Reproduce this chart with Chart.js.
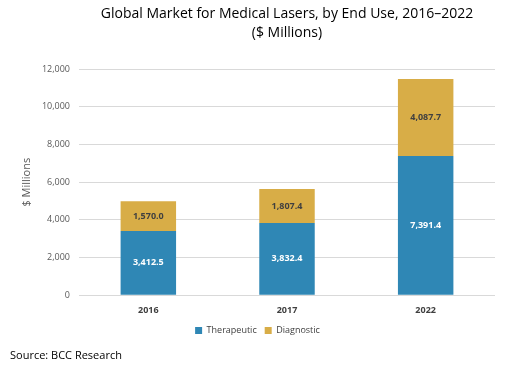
<!DOCTYPE html>
<html><head><meta charset="utf-8">
<script src="https://cdn.jsdelivr.net/npm/chart.js@4/dist/chart.umd.min.js"></script>
<style>
html,body{margin:0;padding:0;background:#fff;}
#wrap{position:relative;width:518px;height:368px;}
#c{position:absolute;left:0;top:0;}
#src{position:absolute;left:10px;top:347px;font-family:"Open Sans","Liberation Sans",sans-serif;font-size:11px;color:#000;}
</style></head>
<body><div id="wrap"><canvas id="c" width="518" height="349"></canvas><div id="src">Source: BCC Research</div></div>
<script>
const categories = ["2016", "2017", "2022"];
const therapeutic = [3412.5, 3832.4, 7391.4];
const diagnostic = [1570.0, 1807.4, 4087.7];
const yTicks = [0, 2000, 4000, 6000, 8000, 10000, 12000];

const fmt = v => v.toLocaleString('en-US', {minimumFractionDigits:1, maximumFractionDigits:1});

const labelPlugin = {
  id: 'barLabels',
  afterDatasetsDraw(chart) {
    const ctx = chart.ctx;
    ctx.save();
    ctx.font = 'bold 9px "Open Sans", sans-serif';
    ctx.textAlign = 'center';
    ctx.textBaseline = 'middle';
    chart.data.datasets.forEach((ds, i) => {
      const meta = chart.getDatasetMeta(i);
      meta.data.forEach((bar, j) => {
        const y = (bar.y + bar.base) / 2;
        ctx.fillStyle = i === 0 ? '#ffffff' : '#404040';
        ctx.fillText(fmt(ds.data[j]), bar.x, y);
      });
    });
    ctx.restore();
  }
};

new Chart(document.getElementById('c'), {
  type: 'bar',
  data: {
    labels: categories,
    datasets: [
      {label: 'Therapeutic', data: therapeutic, backgroundColor: '#2F87B5'},
      {label: 'Diagnostic', data: diagnostic, backgroundColor: '#D8AD47'}
    ]
  },
  options: {
    responsive: false,
    animation: false,
    layout: {padding: {left: 20, right: 23, top: 4, bottom: 4}},
    datasets: {bar: {categoryPercentage: 0.8, barPercentage: 0.5}},
    plugins: {
      title: {
        display: true,
        text: ['Global Market for Medical Lasers, by End Use, 2016\u20132022', '($ Millions)'],
        color: '#000',
        font: {family: '"Open Sans", sans-serif', size: 14, weight: 'normal', lineHeight: 1.4},
        padding: {top: 0, bottom: 26},
        fullSize: false
      },
      legend: {
        position: 'bottom',
        labels: {boxWidth: 7, boxHeight: 7, color: '#404040', padding: 8,
          font: {family: '"Open Sans", sans-serif', size: 9}}
      },
      tooltip: {enabled: false}
    },
    scales: {
      x: {
        stacked: true,
        grid: {display: false},
        border: {display: false},
        ticks: {color: '#404040', font: {family: '"Open Sans", sans-serif', size: 9, weight: 'bold'}, padding: 2}
      },
      y: {
        stacked: true,
        min: 0, max: 12000,
        afterBuildTicks: s => { s.ticks = yTicks.map(v => ({value: v})); },
        afterFit: s => { s.width = 59; },
        grid: {color: '#d9d9d9', drawTicks: false},
        border: {display: false},
        title: {display: true, text: '$ Millions', color: '#595959', font: {family: '"Open Sans", sans-serif', size: 11}, padding: 0},
        ticks: {color: '#595959', font: {family: '"Open Sans", sans-serif', size: 9}, padding: 9,
          callback: v => v.toLocaleString('en-US')}
      }
    }
  },
  plugins: [labelPlugin]
});
</script></body></html>
